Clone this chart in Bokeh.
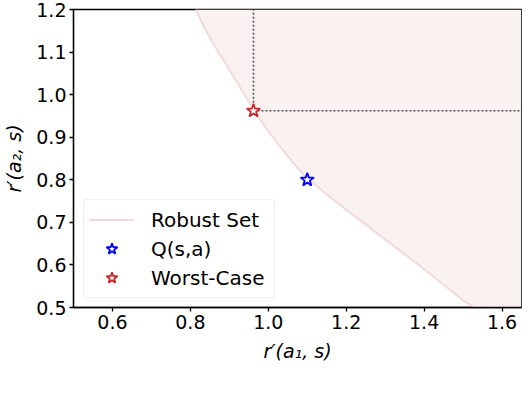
from bokeh.plotting import figure
from bokeh.models import Range1d, FixedTicker
from bokeh.embed import file_html
from bokeh.resources import INLINE

# ---- data ----
x_limits = [0.5, 1.65]
y_limits = [0.5, 1.2]
x_ticks = [0.6, 0.8, 1.0, 1.2, 1.4, 1.6]
x_tick_labels = ["0.6", "0.8", "1.0", "1.2", "1.4", "1.6"]
y_ticks = [0.5, 0.6, 0.7, 0.8, 0.9, 1.0, 1.1, 1.2]
y_tick_labels = ["0.5", "0.6", "0.7", "0.8", "0.9", "1.0", "1.1", "1.2"]

# boundary of the robust set
robust_x = [0.814, 0.833, 0.862, 0.894, 0.925, 0.956, 0.990, 1.028, 1.061, 1.100,
            1.170, 1.237, 1.304, 1.372, 1.438, 1.501, 1.530]
robust_y = [1.200, 1.162, 1.115, 1.068, 1.021, 0.974, 0.927, 0.880, 0.843, 0.803,
            0.751, 0.704, 0.657, 0.610, 0.563, 0.516, 0.500]

q_point_x = [1.10]
q_point_y = [0.80]
worst_x = [0.962]
worst_y = [0.962]

FONT = "DejaVu Sans"

p = figure(width=522, height=388, output_backend="svg", toolbar_location=None,
           x_range=Range1d(*x_limits), y_range=Range1d(*y_limits),
           min_border_left=70, min_border_right=1, min_border_top=9, min_border_bottom=81)
p.background_fill_color = "white"
p.border_fill_color = "white"
p.grid.grid_line_color = None
p.outline_line_color = "black"
p.outline_line_width = 1.3

# shaded robust set
fill_x = robust_x + [x_limits[1], x_limits[1]]
fill_y = robust_y + [y_limits[0], y_limits[1]]
p.patch(fill_x, fill_y, fill_color="#faf1f1", line_color=None)
p.line(robust_x, robust_y, line_color="#f3dada", line_width=2, legend_label="Robust Set")

# dotted guides from the worst case
p.line([worst_x[0], worst_x[0]], [worst_y[0], y_limits[1]], line_color="#555555",
       line_dash="2 2", line_width=1.6)
p.line([worst_x[0], x_limits[1]], [worst_y[0], worst_y[0]], line_color="#555555",
       line_dash="2 2", line_width=1.6)

p.scatter(q_point_x, q_point_y, marker="star", size=14, line_color="blue",
          fill_color="white", line_width=1.8, legend_label="Q(s,a)")
p.scatter(worst_x, worst_y, marker="star", size=14, line_color="#c8282c",
          fill_color="white", line_width=1.8, legend_label="Worst-Case")

# axes
for ax in (p.xaxis[0], p.yaxis[0]):
    ax.major_tick_out = 4
    ax.major_tick_in = 0
    ax.minor_tick_out = 0
    ax.minor_tick_in = 0
    ax.axis_line_width = 1.3
    ax.major_tick_line_width = 1.3
    ax.major_label_text_font = FONT
    ax.major_label_text_font_size = "19px"
    ax.major_label_text_color = "black"
    ax.axis_label_text_font = FONT
    ax.axis_label_text_font_size = "19px"
    ax.axis_label_text_font_style = "italic"
    ax.axis_label_text_color = "black"

p.xaxis.ticker = FixedTicker(ticks=x_ticks)
p.yaxis.ticker = FixedTicker(ticks=y_ticks)
p.xaxis.major_label_overrides = dict(zip(x_ticks, x_tick_labels))
p.yaxis.major_label_overrides = dict(zip(y_ticks, y_tick_labels))
p.xaxis.axis_label = "r\u2032(a\u2081, s)"
p.yaxis.axis_label = "r\u2032(a\u2082, s)"
p.xaxis.major_label_standoff = 3
p.yaxis.major_label_standoff = 3
p.xaxis.axis_label_standoff = 8
p.yaxis.axis_label_standoff = 8

lg = p.legend[0]
lg.location = (10, 9)
lg.label_text_font = FONT
lg.label_text_font_size = "20px"
lg.label_text_color = "black"
lg.glyph_width = 45
lg.glyph_height = 29
lg.label_height = 29
lg.label_width = 118
lg.label_standoff = 17
lg.padding = 5
lg.spacing = 0
lg.margin = 0
lg.border_line_color = "#dddddd"
lg.border_line_width = 1
lg.background_fill_alpha = 0.8
try:
    lg.border_radius = 4
except Exception:
    pass

open("out.html", "w").write(file_html(p, INLINE))
